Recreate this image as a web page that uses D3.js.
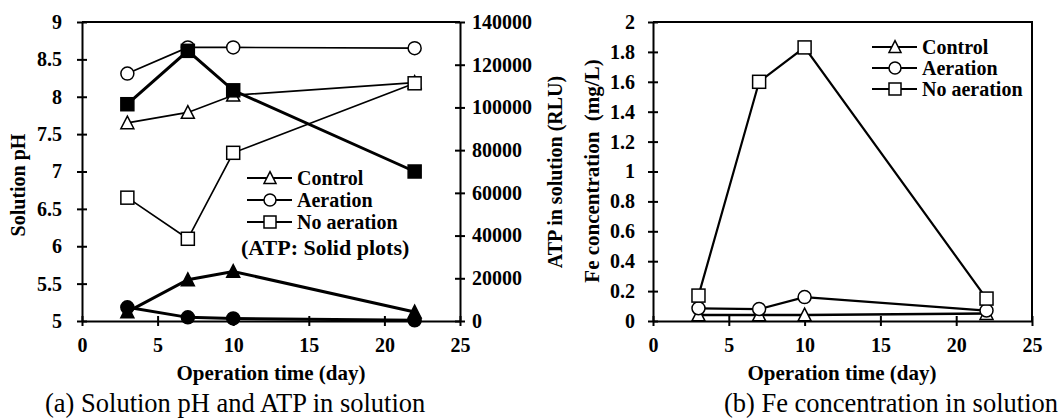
<!DOCTYPE html>
<html>
<head>
<meta charset="utf-8">
<script src="https://cdn.jsdelivr.net/npm/d3@7"></script>
<style>
  body { margin: 0; background: #fff; }
  svg { display: block; font-family: "Liberation Serif", "Times New Roman", serif; }
  .axis path, .axis line { stroke: #000; stroke-width: 2; }
  .axis text { font-family: "Liberation Serif", "Times New Roman", serif; font-size: 20px; font-weight: bold; fill: #000; }
</style>
</head>
<body>
<svg width="1062" height="419"></svg>
<script>
(function (d3) {
    'use strict';
    const days = [3, 7, 10, 22];

    // (a) pH, open markers
    const phControl = [7.65, 7.79, 8.02, 8.19];
    const phAeration = [8.31, 8.66, 8.66, 8.65];
    const phNoAeration = [6.65, 6.1, 7.25, 8.18];

    // (a) ATP (RLU), solid markers
    const atpControl = [4300, 19300, 23200, 4200];
    const atpAeration = [6400, 1700, 1200, 300];
    const atpNoAeration = [101500, 126500, 108000, 70000];

    // (b) Fe concentration (mg/L)
    const feControl = [0.04, 0.04, 0.04, 0.05];
    const feAeration = [0.085, 0.08, 0.16, 0.07];
    const feNoAeration = [0.17, 1.6, 1.83, 0.15];

    const xTicks = [0, 5, 10, 15, 20, 25];
    const phTicks = [5, 5.5, 6, 6.5, 7, 7.5, 8, 8.5, 9];
    const atpTicks = [0, 20000, 40000, 60000, 80000, 100000, 120000, 140000];
    const feTicks = [0, 0.2, 0.4, 0.6, 0.8, 1, 1.2, 1.4, 1.6, 1.8, 2];

    const legendNames = ['Control', 'Aeration', 'No aeration'];
    const legendShapes = ['triangle', 'circle', 'square'];

    const svg = d3.select('svg');

    function marker(g, shape, x, y, filled, s) {
        const fill = filled ? '#000' : '#fff';
        let m;
        if (shape === 'circle') {
            m = g.append('circle').attr('cx', x).attr('cy', y).attr('r', s / 2);
        } else if (shape === 'square') {
            m = g.append('rect').attr('x', x - s / 2).attr('y', y - s / 2)
                .attr('width', s).attr('height', s);
        } else {
            const h = s * 0.9;
            m = g.append('path')
                .attr('d', `M${x},${y - h / 2 - 1}L${x + s / 2},${y + h / 2}L${x - s / 2},${y + h / 2}Z`);
        }
        m.attr('fill', fill).attr('stroke', '#000').attr('stroke-width', 1.5);
    }

    function series(g, x, y, vals, shape, filled, lw) {
        const line = d3.line().x((d, i) => x(days[i])).y(d => y(d));
        g.append('path').datum(vals).attr('d', line)
            .attr('fill', 'none').attr('stroke', '#000').attr('stroke-width', lw);
        vals.forEach((v, i) => marker(g, shape, x(days[i]), y(v), filled, 13));
    }

    function xAxisFor(g, x, y0) {
        const ax = g.append('g').attr('class', 'axis')
            .attr('transform', `translate(0,${y0})`)
            .call(d3.axisBottom(x).tickValues(xTicks).tickSize(5).tickPadding(12).tickSizeOuter(0));
        ax.selectAll('.tick line').attr('y1', -5);
    }

    function legend(g, lx, ly, gap) {
        legendNames.forEach((n, i) => {
            const yy = ly + i * gap;
            g.append('line').attr('x1', lx).attr('x2', lx + 45).attr('y1', yy).attr('y2', yy)
                .attr('stroke', '#000').attr('stroke-width', 2);
            marker(g, legendShapes[i], lx + 23, yy, false, 12);
            g.append('text').attr('x', lx + 50).attr('y', yy + 7)
                .attr('font-size', 20).attr('font-weight', 'bold').text(n);
        });
    }

    function boldText(g, x, y, size, txt, rotate, anchor) {
        return g.append('text')
            .attr('transform', `translate(${x},${y})` + (rotate ? ' rotate(-90)' : ''))
            .attr('text-anchor', anchor || 'middle').attr('font-size', size)
            .attr('font-weight', 'bold').text(txt);
    }

    // ---------- chart (a) ----------
    const top = 22, bottom = 321;
    const xa = d3.scaleLinear().domain([0, 25]).range([82, 460]);
    const yPh = d3.scaleLinear().domain([5, 9]).range([bottom, top]);
    const yAtp = d3.scaleLinear().domain([0, 140000]).range([bottom, top]);

    const ga = svg.append('g');
    ga.append('line').attr('x1', 82).attr('x2', 460).attr('y1', top).attr('y2', top)
        .attr('stroke', '#000').attr('stroke-width', 2);

    const ayl = ga.append('g').attr('class', 'axis').attr('transform', 'translate(82,0)')
        .call(d3.axisLeft(yPh).tickValues(phTicks).tickFormat(d3.format('~g'))
            .tickSize(5).tickPadding(15).tickSizeOuter(0));
    ayl.selectAll('.tick line').attr('x1', 5);

    const ayr = ga.append('g').attr('class', 'axis').attr('transform', 'translate(460,0)')
        .call(d3.axisRight(yAtp).tickValues(atpTicks).tickFormat(d3.format('d'))
            .tickSize(5).tickPadding(7).tickSizeOuter(0));
    ayr.selectAll('.tick line').attr('x1', -5);

    xAxisFor(ga, xa, bottom);

    series(ga, xa, yPh, phControl, 'triangle', false, 1.7);
    series(ga, xa, yPh, phAeration, 'circle', false, 1.7);
    series(ga, xa, yPh, phNoAeration, 'square', false, 1.7);
    series(ga, xa, yAtp, atpControl, 'triangle', true, 3);
    series(ga, xa, yAtp, atpAeration, 'circle', true, 3);
    series(ga, xa, yAtp, atpNoAeration, 'square', true, 3);

    legend(ga, 247, 178, 22);
    boldText(ga, 241, 255, 22, '(ATP: Solid plots)', false, 'start');

    boldText(ga, 25, 185, 20, 'Solution pH', true);
    boldText(ga, 562, 172, 20, 'ATP in solution (RLU)', true);
    boldText(ga, 271, 380, 21, 'Operation time (day)', false);
    ga.append('text').attr('x', 45).attr('y', 412).attr('font-size', 26.5)
        .text('(a) Solution pH and ATP in solution');

    // ---------- chart (b) ----------
    const xb = d3.scaleLinear().domain([0, 25]).range([653, 1032]);
    const yFe = d3.scaleLinear().domain([0, 2]).range([bottom, top]);
    const gb = svg.append('g');
    gb.append('path').attr('d', `M653,${top}H1032V${bottom}`)
        .attr('fill', 'none').attr('stroke', '#000').attr('stroke-width', 2);

    const byl = gb.append('g').attr('class', 'axis').attr('transform', 'translate(653,0)')
        .call(d3.axisLeft(yFe).tickValues(feTicks).tickFormat(d3.format('~g'))
            .tickSize(5).tickPadding(13).tickSizeOuter(0));
    byl.selectAll('.tick line').attr('x1', 5);
    xAxisFor(gb, xb, bottom);

    series(gb, xb, yFe, feControl, 'triangle', false, 2.7);
    series(gb, xb, yFe, feAeration, 'circle', false, 2.2);
    series(gb, xb, yFe, feNoAeration, 'square', false, 2.2);

    legend(gb, 872, 47, 21);

    boldText(gb, 599, 171, 21, 'Fe concentration\u00a0\u00a0(mg/L)', true);
    boldText(gb, 842, 380, 21, 'Operation time (day)', false);
    gb.append('text').attr('x', 1058).attr('y', 412).attr('text-anchor', 'end').attr('font-size', 26.5)
        .text('(b) Fe concentration in solution');
}(d3));
</script>
</body>
</html>
